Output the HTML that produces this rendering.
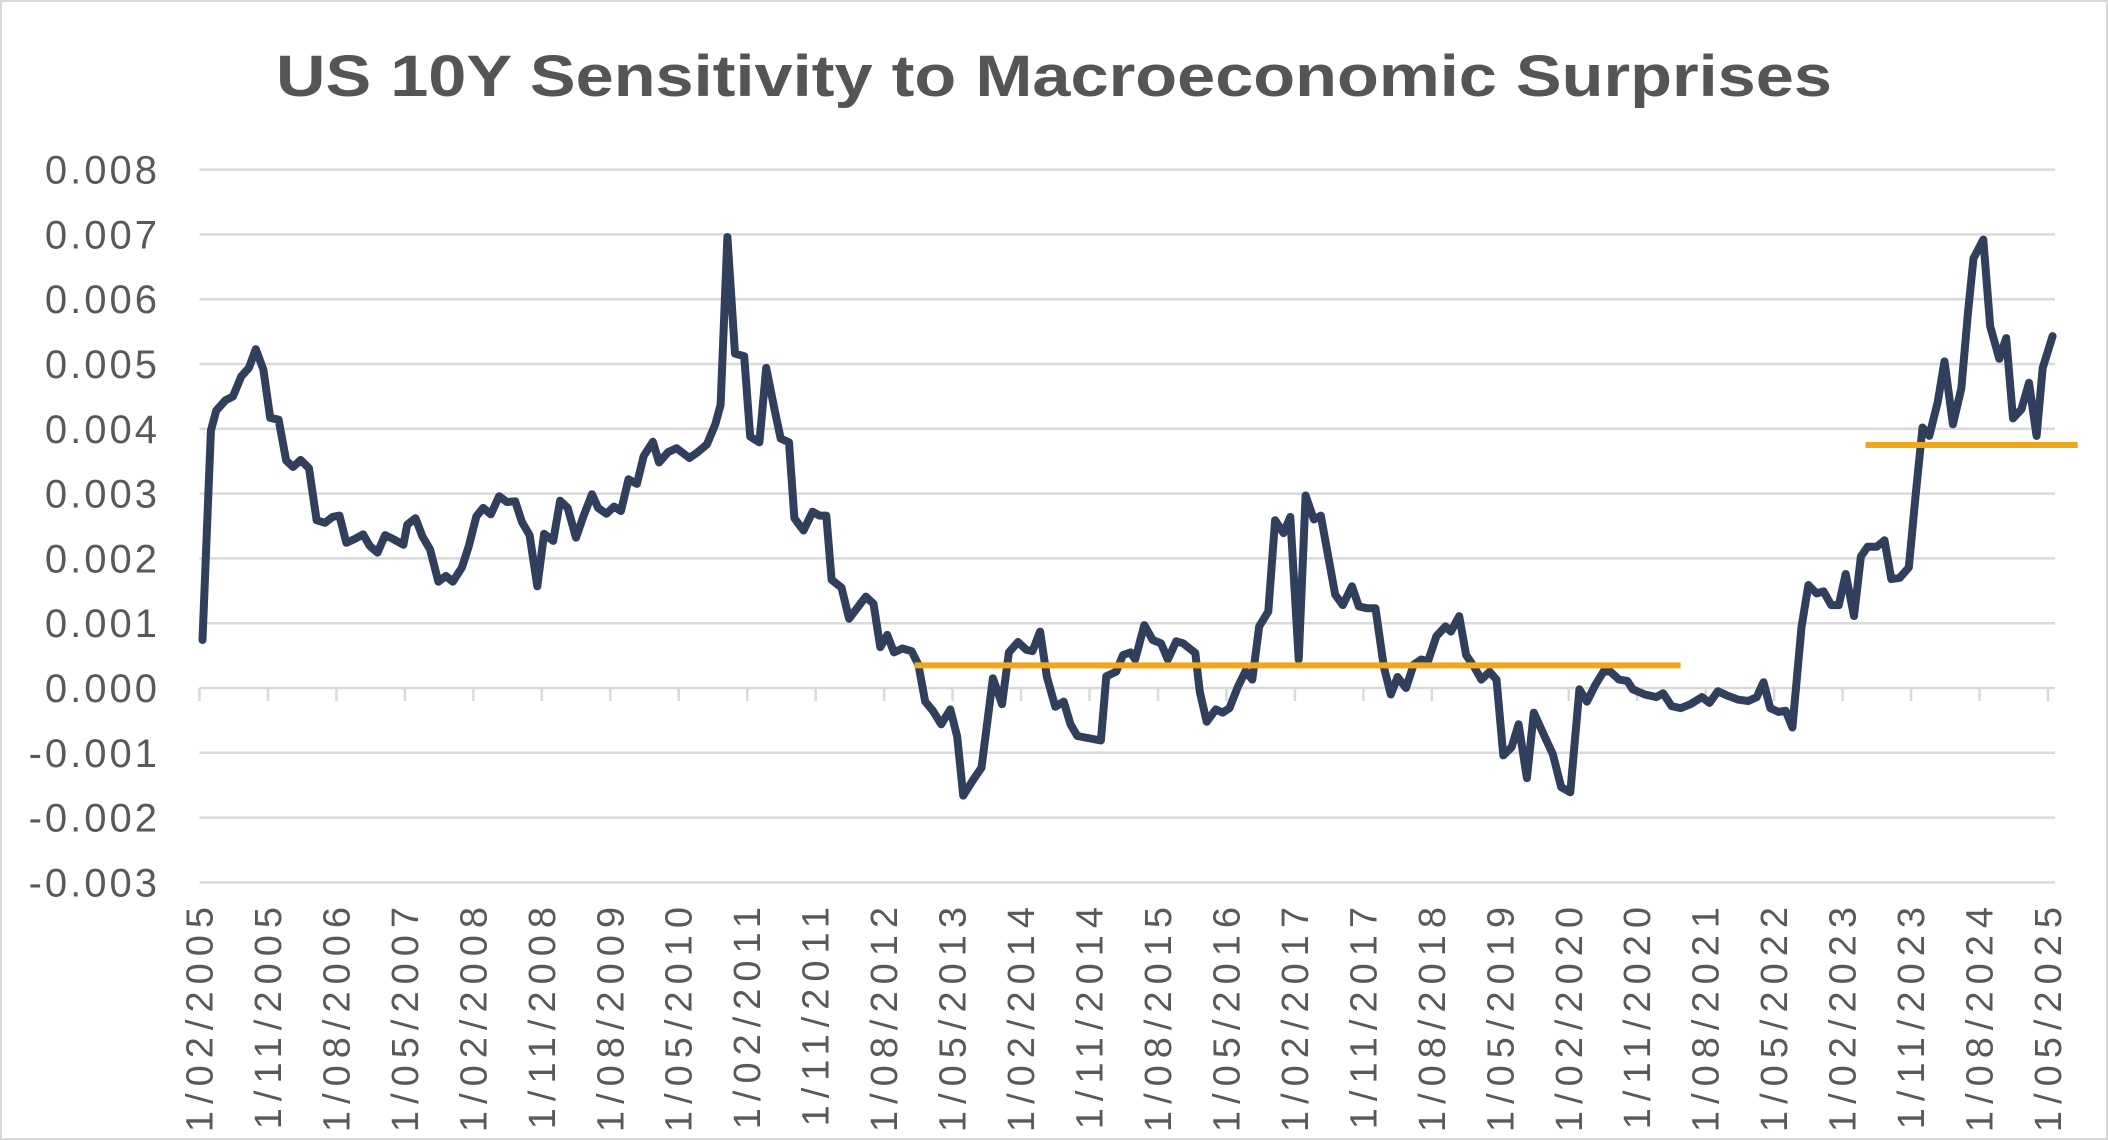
<!DOCTYPE html>
<html><head><meta charset="utf-8"><style>
html,body{margin:0;padding:0;background:#fff;}
#wrap{width:2108px;height:1140px;position:relative;box-sizing:border-box;border:2px solid #d9d9d9;overflow:hidden;}
svg{position:absolute;left:-2px;top:-2px;}
</style></head><body>
<div id="wrap">
<svg id="chart" width="2108" height="1140" xmlns="http://www.w3.org/2000/svg">
<text x="1054" y="96" text-anchor="middle" font-family="Liberation Sans, sans-serif" font-weight="bold" font-size="58" fill="#555555" textLength="1556" lengthAdjust="spacingAndGlyphs">US 10Y Sensitivity to Macroeconomic Surprises</text>
</svg>
</div>
<script>
const yTicks = [-0.003,-0.002,-0.001,0,0.001,0.002,0.003,0.004,0.005,0.006,0.007,0.008];
const yTickLabels = ["-0.003","-0.002","-0.001","0.000","0.001","0.002","0.003","0.004","0.005","0.006","0.007","0.008"];
const xTickMonths = [0,9,18,27,36,45,54,63,72,81,90,99,108,117,126,135,144,153,162,171,180,189,198,207,216,225,234,243];
const xTickLabels = ["1/02/2005","1/11/2005","1/08/2006","1/05/2007","1/02/2008","1/11/2008","1/08/2009","1/05/2010","1/02/2011","1/11/2011","1/08/2012","1/05/2013","1/02/2014","1/11/2014","1/08/2015","1/05/2016","1/02/2017","1/11/2017","1/08/2018","1/05/2019","1/02/2020","1/11/2020","1/08/2021","1/05/2022","1/02/2023","1/11/2023","1/08/2024","1/05/2025"];
// months since Feb 2005
const seriesMonths = [0.4,1.5,2.2,3.4,4.4,5.5,6.5,7.4,8.4,9.3,10.4,11.4,12.3,13.3,14.4,15.4,16.5,17.5,18.4,19.3,20.4,21.5,22.4,23.4,24.4,25.6,26.8,27.3,28.4,29.3,30.3,31.4,32.4,33.3,34.5,35.4,36.4,37.3,38.3,39.4,40.4,41.5,42.4,43.4,44.4,45.3,46.5,47.4,48.4,49.5,50.5,51.6,52.4,53.5,54.5,55.4,56.4,57.5,58.4,59.6,60.4,61.6,62.7,64.4,65.5,66.7,67.8,68.5,69.4,70.4,71.6,72.4,73.6,74.5,75.7,76.4,77.5,78.2,79.4,80.6,81.5,82.4,83.1,84.4,85.4,86.5,87.6,88.6,89.5,90.4,91.3,92.4,93.6,94.5,95.4,96.4,97.5,98.7,99.6,100.4,101.8,102.8,104.3,105.5,106.4,107.6,108.7,109.5,110.5,111.4,112.5,113.6,114.5,115.4,118.5,119.2,120.5,121.4,122.4,123.0,124.2,125.3,126.4,127.3,128.4,129.3,130.9,131.5,132.4,133.6,134.5,135.4,136.5,137.5,138.4,139.3,140.5,141.4,142.5,143.4,144.5,145.4,146.5,147.4,149.3,150.3,151.5,152.4,153.5,154.6,155.7,156.6,157.5,158.6,159.6,160.6,161.5,162.6,163.8,164.5,165.6,166.5,167.6,168.5,169.6,170.5,171.4,172.5,173.4,174.5,175.4,176.8,177.9,179.0,180.2,181.4,182.4,183.5,184.6,185.5,186.6,187.7,188.4,190.0,191.5,192.4,193.5,194.7,196.0,197.5,198.5,199.6,200.9,202.3,203.6,204.7,205.6,206.5,207.6,208.5,209.4,210.6,211.5,212.6,213.5,214.5,215.5,216.4,217.5,218.4,219.3,220.5,221.5,222.4,223.5,224.7,225.6,226.5,227.4,228.5,229.4,230.5,231.6,232.5,233.2,234.5,235.4,236.6,237.5,238.4,239.5,240.5,241.5,242.3,243.6];
const seriesValues = [0.00074,0.00397,0.00428,0.00444,0.0045,0.00481,0.00494,0.00523,0.00491,0.00417,0.00414,0.00351,0.00341,0.00352,0.00339,0.00259,0.00255,0.00264,0.00266,0.00224,0.0023,0.00237,0.00219,0.00209,0.00236,0.00229,0.00221,0.00252,0.00262,0.00234,0.00214,0.00164,0.00173,0.00164,0.00186,0.00219,0.00265,0.00278,0.00268,0.00296,0.00287,0.00288,0.00256,0.00236,0.00157,0.00238,0.00227,0.00289,0.00278,0.00232,0.00266,0.00299,0.00278,0.00269,0.0028,0.00273,0.00322,0.00315,0.00358,0.0038,0.00348,0.00364,0.0037,0.00355,0.00364,0.00376,0.00407,0.00437,0.00696,0.00516,0.00512,0.00388,0.00379,0.00494,0.00424,0.00385,0.00379,0.00262,0.00243,0.00272,0.00266,0.00266,0.00167,0.00155,0.00107,0.00124,0.00141,0.0013,0.00063,0.00082,0.00055,0.00061,0.00057,0.00036,-0.00021,-0.00035,-0.00056,-0.00033,-0.00075,-0.00166,-0.0014,-0.00123,0.00015,-0.00025,0.00055,0.00071,0.00059,0.00057,0.00087,0.00017,-0.00029,-0.00021,-0.00056,-0.00074,-0.00081,0.00018,0.00025,0.00051,0.00055,0.00044,0.00097,0.00074,0.00069,0.00044,0.00072,0.00069,0.00054,-0.00006,-0.00052,-0.00033,-0.00038,-0.00031,0.00002,0.00026,0.00013,0.00095,0.00118,0.00259,0.00239,0.00264,0.00044,0.00297,0.0026,0.00266,0.00144,0.00128,0.00157,0.00126,0.00123,0.00123,0.00032,-0.0001,0.00017,0.0,0.00036,0.00044,0.00041,0.0008,0.00095,0.00087,0.00111,0.00051,0.00032,0.00013,0.00025,0.00013,-0.00104,-0.00091,-0.00056,-0.00139,-0.00038,-0.00074,-0.00102,-0.00153,-0.00161,-0.00002,-0.00021,0.00005,0.00026,0.00025,0.00013,0.00011,-0.00002,-0.0001,-0.00014,-0.00008,-0.00028,-0.00031,-0.00025,-0.00014,-0.00023,-0.00005,-0.00012,-0.00018,-0.0002,-0.00014,0.00009,-0.00031,-0.00037,-0.00035,-0.00061,0.00094,0.00159,0.00146,0.00149,0.00128,0.00128,0.00176,0.00111,0.00203,0.00218,0.00218,0.00228,0.00168,0.0017,0.00186,0.00297,0.00402,0.00389,0.00441,0.00504,0.00407,0.00462,0.00581,0.00663,0.00692,0.00558,0.00508,0.0054,0.00416,0.0043,0.00471,0.00389,0.00494,0.00543];
const avgStartMonths = [94.0, 219.0];
const avgEndMonths = [194.7, 246.9];
const avgValues = [0.00035, 0.00375];

const NS = "http://www.w3.org/2000/svg";
const svg = document.getElementById('chart');
const X0 = 199.5, PXM = 7.607, Y0 = 688, PXV = 64800;
const xScale = m => X0 + m * PXM;
const yScale = v => Y0 - v * PXV;
function mk(tag, attrs) { const e = document.createElementNS(NS, tag); for (const k in attrs) e.setAttribute(k, attrs[k]); svg.appendChild(e); return e; }

yTicks.forEach((v, i) => {
  const g = mk('line', {x1: X0, x2: 2055, y1: yScale(v), y2: yScale(v), stroke: '#d9d9d9', 'stroke-width': 2.5});
  
  
  const t = mk('text', {x: 160, y: yScale(v) + 14, 'text-anchor': 'end', 'font-family': 'Liberation Sans, sans-serif', 'font-size': 40, 'letter-spacing': 3, fill: '#595959'});
  t.textContent = yTickLabels[i];
  
  
});
xTickMonths.forEach((m, i) => {
  const x = xScale(m);
  const tk = mk('line', {x1: x, x2: x, y1: Y0, y2: Y0 + 13, stroke: '#d9d9d9', 'stroke-width': 2.5});
  
  
  const t = mk('text', {x: 0, y: 0, 'text-anchor': 'end', 'font-family': 'Liberation Sans, sans-serif', 'font-size': 38, 'letter-spacing': 7, fill: '#595959', transform: `translate(${x + 13},${900}) rotate(-90)`});
  t.textContent = xTickLabels[i];
  
  
});
const pts = seriesMonths.map((m, i) => xScale(m).toFixed(1) + ',' + yScale(seriesValues[i]).toFixed(1)).join(' ');
const line = mk('polyline', {points: pts, fill: 'none', stroke: '#303f5c', 'stroke-width': 8, 'stroke-linejoin': 'round', 'stroke-linecap': 'round'});


avgValues.forEach((v, i) => {
  const a = mk('line', {x1: xScale(avgStartMonths[i]), x2: xScale(avgEndMonths[i]), y1: yScale(v), y2: yScale(v), stroke: '#f2a71b', 'stroke-width': 6});
  
  
});
</script>
</body></html>
